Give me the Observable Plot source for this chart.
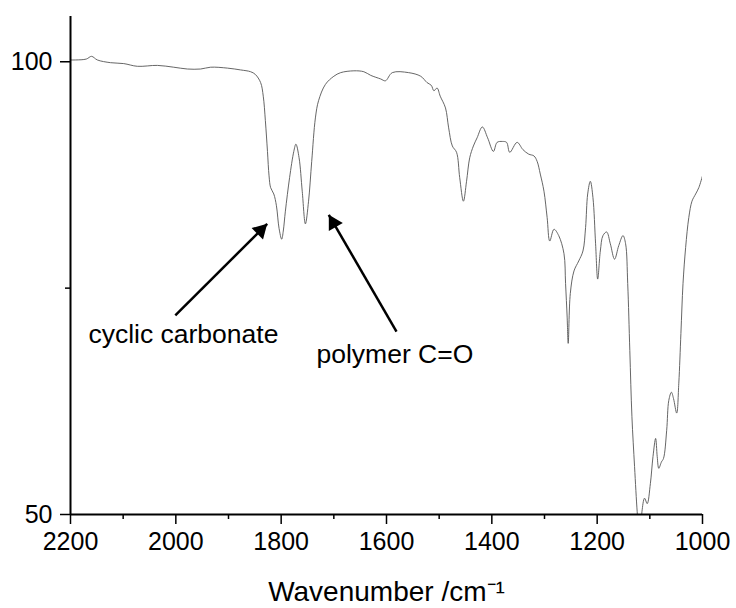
<!DOCTYPE html>
<html>
<head>
<meta charset="utf-8">
<script src="https://cdn.jsdelivr.net/npm/d3@7"></script>
<script src="https://cdn.jsdelivr.net/npm/@observablehq/plot@0.6"></script>
<style>
  html, body { margin: 0; padding: 0; background: #fff; }
  #chart { width: 736px; height: 608px; }
</style>
</head>
<body>
<div id="chart"></div>
<script>
// Wavenumber (cm^-1)
const wavenumber = [2200,2190,2170,2160,2149,2124,2099,2073,2035,2004,
  1978,1953,1934,1902,1877,1858,1849,1839,1834,1830,
  1826,1823,1820,1814,1809,1804,1799,1796,1792,1784,
  1776,1772,1766,1760,1754,1748,1742,1735,1729,1716,
  1700,1687,1662,1643,1630,1611,1602,1589,1558,1535,
  1523,1515,1510,1504,1498,1488,1482,1475,1467,1461,
  1454,1448,1442,1435,1428,1418,1408,1397,1390,1380,
  1372,1366,1352,1341,1330,1320,1314,1308,1301,1295,
  1290,1282,1273,1263,1260,1257,1255,1251,1244,1235,
  1227,1222,1218,1213,1208,1203,1199,1194,1189,1182,
  1175,1167,1159,1151,1146,1142,1138,1134,1129,1124,
  1121,1117,1115,1110,1105,1099,1094,1089,1086,1083,
  1078,1074,1068,1064,1059,1055,1049,1045,1041,1037,
  1032,1026,1020,1013,1007,1000];
// Transmittance (%)
const transmittance = [100.2,100.2,100.3,100.6,100.2,99.9,99.8,99.5,99.6,99.4,
  99.2,99.2,99.4,99.3,99.1,98.9,98.6,97.7,96.2,93.5,
  90.1,87.4,86.1,85.4,84.1,81.6,80.4,81.3,83.5,87.2,
  90.1,90.9,89.4,85.7,82.1,84.6,89.0,93.8,95.7,97.5,
  98.4,98.8,99.0,98.9,98.5,98.1,97.9,98.8,98.8,98.4,
  97.7,97.4,96.8,97.1,96.2,94.9,92.7,90.7,90.0,87.2,
  84.6,86.8,89.4,90.7,91.6,92.8,91.6,90.1,91.1,91.2,
  91.1,90.0,91.1,90.3,89.8,89.6,89.0,87.6,85.7,82.8,
  80.2,81.5,80.8,78.8,75.5,71.8,68.9,74.4,76.9,78.0,
  79.1,81.7,85.4,86.8,85.0,79.9,76.0,79.1,80.8,81.2,
  79.9,78.2,79.7,80.8,79.9,75.5,68.1,60.8,55.3,50.3,
  48.3,48.3,50.3,51.8,51.2,53.4,56.4,58.4,56.4,55.1,
  55.8,56.2,59.3,62.6,63.5,62.8,61.2,64.5,70.0,75.5,
  79.5,82.8,84.6,85.4,86.1,87.4];

// Axis ticks
const xMajorTicks = [2200, 2000, 1800, 1600, 1400, 1200, 1000];
const xMinorTicks = [2100, 1900, 1700, 1500, 1300, 1100];
const yMajorTicks = [50, 100];
const yMinorTicks = [75];
const xTitle = "Wavenumber /cm\u207B\u00B9";

// Annotations (data coordinates)
const annLabels = ["cyclic carbonate", "polymer C=O"];
const annLabelX = [2166, 1733];
const annLabelY = [69.9, 67.7];
const arrowTailX = [2001, 1581];
const arrowTailY = [72.0, 70.2];
const arrowHeadX = [1826.5, 1709.6];
const arrowHeadY = [82.1, 83.1];
const arrowAngle = [45, -30];

const spectrum = wavenumber.map((w, i) => ({w, t: transmittance[i]}));
const labels = annLabels.map((s, i) => ({s, x: annLabelX[i], y: annLabelY[i]}));
const arrows = arrowTailX.map((x, i) => ({x1: x, y1: arrowTailY[i], x2: arrowHeadX[i], y2: arrowHeadY[i], a: arrowAngle[i]}));
const plain = d => String(d);

const chart = Plot.plot({
  width: 736,
  height: 608,
  marginLeft: 70,
  marginRight: 34,
  marginTop: 16,
  marginBottom: 94,
  style: {fontFamily: "'Liberation Sans', Arial, sans-serif", fontSize: "25px", background: "white", color: "black"},
  x: {domain: [2200, 1000]},
  y: {domain: [50, 105]},
  marks: [
    Plot.line(spectrum, {x: "w", y: "t", stroke: "#555", strokeWidth: 0.9, curve: "catmull-rom", clip: true}),
    Plot.ruleX([2200], {y1: 50, y2: 105, stroke: "black", strokeWidth: 2}),
    Plot.ruleY([50], {stroke: "black", strokeWidth: 2}),
    Plot.axisX(xMajorTicks, {tickSize: 10, tickPadding: 8, strokeWidth: 1.5, fontSize: 25, tickFormat: plain, label: null}),
    Plot.axisX(xMinorTicks, {tickSize: 5, strokeWidth: 1.5, tickFormat: () => "", label: null}),
    Plot.axisY(yMajorTicks, {tickSize: 10, tickPadding: 8, strokeWidth: 1.5, fontSize: 25, tickFormat: plain, label: null}),
    Plot.axisY(yMinorTicks, {tickSize: 5, strokeWidth: 1.5, tickFormat: () => "", label: null}),
    Plot.link(arrows, {x1: "x1", y1: "y1", x2: "x2", y2: "y2", stroke: "black", strokeWidth: 2.5}),
    Plot.dot(arrows.slice(0, 1), {x: "x2", y: "y2", symbol: "triangle", r: 6, fill: "black", stroke: null, rotate: "a", dx: -6.6, dy: 6.6}),
    Plot.dot(arrows.slice(1, 2), {x: "x2", y: "y2", symbol: "triangle", r: 6, fill: "black", stroke: null, rotate: "a", dx: 4.7, dy: 8.1}),
    Plot.text(labels, {x: "x", y: "y", text: "s", textAnchor: "start", fontSize: 26.5, fill: "black"}),
    Plot.text([xTitle], {text: d => d, frameAnchor: "bottom", lineAnchor: "bottom", dy: 86, fontSize: 28, fill: "black"})
  ]
});
document.getElementById("chart").appendChild(chart);
</script>
</body>
</html>
